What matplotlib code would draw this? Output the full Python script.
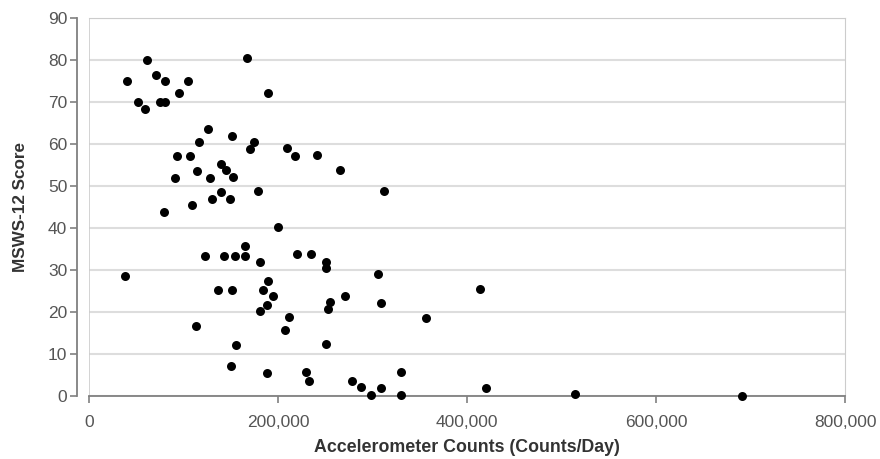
import numpy as np
import matplotlib
matplotlib.use("Agg")
import matplotlib.pyplot as plt
from matplotlib.ticker import FuncFormatter

plt.rcParams['font.family'] = ['Liberation Sans', 'DejaVu Sans']

# accelerometer counts per day
counts = [61700, 166900, 39900, 70600, 80100, 104800, 95200, 189800, 52200, 59300,
          75100, 80400, 125900, 116400, 151300, 174300, 170000, 209900, 218000, 241300,
          93100, 106900, 139700, 144600, 152700, 114300, 91300, 127700, 140000, 149200,
          178800, 130500, 109300, 79700, 265600, 312000, 200000, 164700, 123100, 142900,
          154800, 164700, 181300, 220500, 234400, 250800, 250800, 38400, 189400, 184500,
          194400, 136200, 151600, 188000, 181300, 211600, 207000, 112900, 155200, 250600,
          149900, 188700, 229500, 233000, 305500, 271200, 255400, 253200, 308700, 356300,
          278000, 287800, 298100, 309000, 329800, 329800, 414000, 420100, 514300, 691000]
# MSWS-12 scores
scores = [80.0, 80.4, 75.1, 76.4, 75.1, 75.1, 72.2, 72.2, 70.0, 68.3,
          70.0, 70.0, 63.6, 60.4, 61.9, 60.5, 58.9, 59.0, 57.2, 57.5,
          57.1, 57.1, 55.2, 53.8, 52.1, 53.6, 52.0, 51.8, 48.6, 46.8,
          48.7, 46.9, 45.5, 43.7, 53.7, 48.7, 40.3, 35.7, 33.4, 33.4,
          33.4, 33.4, 32.0, 33.7, 33.7, 31.8, 30.4, 28.6, 27.4, 25.3,
          23.8, 25.3, 25.3, 21.7, 20.3, 18.7, 15.6, 16.7, 12.1, 12.3,
          7.1, 5.5, 5.6, 3.6, 29.0, 23.8, 22.4, 20.6, 22.1, 18.5,
          3.6, 2.1, 0.2, 2.0, 5.6, 0.2, 25.4, 2.0, 0.4, 0.1]

fig = plt.figure(figsize=(8.8, 4.59), dpi=100)
ax = fig.add_axes([89/880, 1-396/459, 756/880, 378/459])

ax.scatter(counts, scores, s=42, color="black", zorder=5, clip_on=False, linewidths=0)

ax.set_xlim(0, 800000)
ax.set_ylim(0, 90)
ax.set_xticks(np.arange(0, 800001, 200000))
ax.set_yticks(np.arange(0, 91, 10))
ax.xaxis.set_major_formatter(FuncFormatter(lambda v, p: "{:,.0f}".format(v)))

ax.yaxis.grid(True, color="#dddddd", linewidth=1.5, zorder=0)
ax.set_axisbelow(True)
ax.axvline(0, color="#cccccc", linewidth=1.2, zorder=1)

ax.spines["top"].set_color("#cccccc")
ax.spines["right"].set_color("#cccccc")
ax.spines["left"].set_color("#808080")
ax.spines["bottom"].set_color("#808080")
ax.spines["left"].set_linewidth(1.3)
ax.spines["bottom"].set_linewidth(1.3)
ax.spines["left"].set_position(("outward", 8.6))

ax.tick_params(axis="both", direction="out", length=5, width=1.2, color="#808080",
               labelsize=12.5, labelcolor="#555555")
ax.tick_params(axis="y", pad=2)
ax.tick_params(axis="x", pad=9)

ax.set_xlabel("Accelerometer Counts (Counts/Day)", fontsize=12.8, fontweight="bold", color="#333333")
ax.set_ylabel("MSWS-12 Score", fontsize=12.3, fontweight="bold", color="#333333")
ax.xaxis.set_label_coords(0.5, -0.115)
ax.yaxis.set_label_coords(-0.081, 0.5)

fig.savefig("out.png", dpi=100)
